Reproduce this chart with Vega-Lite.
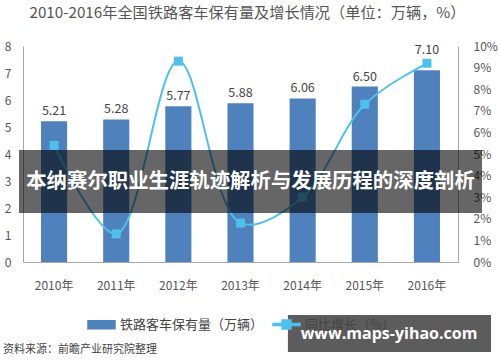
{
  "$schema": "https://vega.github.io/schema/vega-lite/v6.json",
  "width": 435,
  "height": 216,
  "autosize": {"type": "none"},
  "padding": {"left": 23, "top": 46, "right": 42, "bottom": 100},
  "background": "white",
  "config": {
    "font": "Noto Sans CJK SC",
    "view": {"stroke": null},
    "axis": {"labelFont": "Noto Sans CJK SC", "labelFontSize": 12, "labelColor": "#555555", "domainColor": "#a6a6a6", "ticks": false, "grid": false, "title": null}
  },
  "title": {
    "text": "2010-2016年全国铁路客车保有量及增长情况（单位：万辆，%）",
    "fontSize": 15.2,
    "fontWeight": "normal",
    "color": "#555555",
    "font": "Noto Sans CJK SC",
    "anchor": "middle",
    "offset": 19,
    "dx": 7
  },
  "data": {
    "values": [
      {"year": "2010年", "count": 5.21, "growth": 5.4},
      {"year": "2011年", "count": 5.28, "growth": 1.3},
      {"year": "2012年", "count": 5.77, "growth": 9.3},
      {"year": "2013年", "count": 5.88, "growth": 1.8},
      {"year": "2014年", "count": 6.06, "growth": 3.0},
      {"year": "2015年", "count": 6.50, "growth": 7.3},
      {"year": "2016年", "count": 7.10, "growth": 9.2}
    ]
  },
  "layer": [
    {
      "layer": [
        {
          "mark": {"type": "bar"},
          "encoding": {
            "x": {"field": "year", "type": "nominal", "sort": null,
                  "scale": {"paddingInner": 0.58, "paddingOuter": 0.29},
                  "axis": {"labelAngle": 0, "labelPadding": 18}},
            "y": {"field": "count", "type": "quantitative",
                  "scale": {"domain": [0, 8]},
                  "axis": {"orient": "left", "values": [0,1,2,3,4,5,6,7,8], "labelPadding": 12}},
            "color": {"datum": "铁路客车保有量（万辆）", "type": "nominal",
              "scale": {"domain": ["铁路客车保有量（万辆）", "同比增长（%）"], "range": ["#4f81bd", "#4fc0ee"]},
              "legend": {
                "orient": "none", "legendX": 64, "legendY": 264, "direction": "horizontal",
                "title": null, "padding": 0, "columnPadding": 6, "labelOffset": 4,
                "labelFontSize": 13, "labelColor": "#444444", "labelFont": "Noto Sans CJK SC",
                "symbolSize": 729,
                "encode": {
                  "symbols": {"update": {
                    "shape": {"signal": "datum.value === '同比增长（%）' ? 'M-1,-0.07H1V0.07H-1Z M-0.33,-0.33H0.33V0.33H-0.33Z' : 'M-1,-0.3H1V0.3H-1Z'"},
                    "fill": {"signal": "scale('color', datum.value)"},
                    "stroke": {"value": "transparent"},
                    "opacity": {"value": 1}
                  }}
                }
              }
            }
          }
        },
        {
          "transform": [{"filter": "datum.year !== '2016年'"}],
          "mark": {"type": "text", "dy": -6, "baseline": "alphabetic", "fontSize": 12.5, "color": "#444444"},
          "encoding": {
            "x": {"field": "year", "type": "nominal", "sort": null},
            "y": {"field": "count", "type": "quantitative", "scale": {"domain": [0, 8]}, "axis": null},
            "text": {"field": "count", "type": "quantitative", "format": ".2f"}
          }
        },
        {
          "transform": [{"filter": "datum.year === '2016年'"}],
          "mark": {"type": "text", "dy": -16, "baseline": "alphabetic", "fontSize": 12.5, "color": "#444444"},
          "encoding": {
            "x": {"field": "year", "type": "nominal", "sort": null},
            "y": {"field": "count", "type": "quantitative", "scale": {"domain": [0, 8]}, "axis": null},
            "text": {"field": "count", "type": "quantitative", "format": ".2f"}
          }
        },
        {
          "mark": {"type": "line", "interpolate": "catmull-rom", "strokeWidth": 2,
                   "point": {"shape": "square", "size": 81, "filled": true, "opacity": 1}},
          "encoding": {
            "x": {"field": "year", "type": "nominal", "sort": null},
            "y": {"field": "growth", "type": "quantitative",
                  "scale": {"domain": [0, 10]},
                  "axis": {"orient": "right", "values": [0,1,2,3,4,5,6,7,8,9,10], "labelExpr": "datum.value + '%'", "labelPadding": 15}},
            "color": {"datum": "同比增长（%）", "type": "nominal"}
          }
        }
      ],
      "resolve": {"scale": {"y": "independent"}}
    },
    {
      "data": {"values": [{}]},
      "layer": [
        {
          "mark": {"type": "rect", "color": "black", "opacity": 0.6},
          "encoding": {
            "x": {"datum": -0.0092, "type": "quantitative", "scale": {"domain": [0, 1]}, "axis": null},
            "x2": {"datum": 1.0552},
            "y": {"datum": 0.5185, "type": "quantitative", "scale": {"domain": [0, 1]}, "axis": null},
            "y2": {"datum": 0.2269}
          }
        },
        {
          "mark": {"type": "text", "text": "本纳赛尔职业生涯轨迹解析与发展历程的深度剖析", "color": "white", "fontSize": 20.4, "fontWeight": "bold", "align": "center", "baseline": "middle", "font": "Noto Sans CJK SC"},
          "encoding": {
            "x": {"datum": 0.523, "type": "quantitative"},
            "y": {"datum": 0.37, "type": "quantitative"}
          }
        },
        {
          "mark": {"type": "rect", "color": "black", "opacity": 0.64},
          "encoding": {
            "x": {"datum": 0.609, "type": "quantitative"},
            "x2": {"datum": 1.0759},
            "y": {"datum": -0.2454, "type": "quantitative"},
            "y2": {"datum": -0.4167}
          }
        },
        {
          "mark": {"type": "text", "text": "www.maps-yihao.com", "color": "white", "fontSize": 16, "fontWeight": "bold", "align": "center", "baseline": "middle", "font": "Open Sans"},
          "encoding": {
            "x": {"datum": 0.8414, "type": "quantitative"},
            "y": {"datum": -0.333, "type": "quantitative"}
          }
        },
        {
          "mark": {"type": "text", "text": "资料来源：前瞻产业研究院整理", "color": "#444444", "fontSize": 11, "align": "left", "baseline": "middle", "font": "Noto Sans CJK SC"},
          "encoding": {
            "x": {"datum": -0.046, "type": "quantitative"},
            "y": {"datum": -0.407, "type": "quantitative"}
          }
        }
      ]
    }
  ],
  "resolve": {"scale": {"x": "independent", "y": "independent"}}
}
